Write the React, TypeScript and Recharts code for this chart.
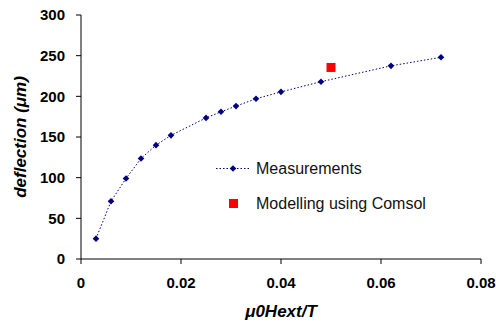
import React from 'react';
import { ScatterChart, Scatter, XAxis, YAxis, Legend, Label } from 'recharts';

const fieldT = [0.003, 0.006, 0.009, 0.012, 0.015, 0.018, 0.025, 0.028, 0.031, 0.035, 0.04, 0.048, 0.062, 0.072];
const deflectionUm = [25, 71, 99, 123.5, 140, 152, 173.5, 181, 188, 197, 205.5, 218, 237.5, 248];
const comsolField = [0.05];
const comsolDeflection = [235.5];
const xTicks = [0, 0.02, 0.04, 0.06, 0.08];
const yTicks = [0, 50, 100, 150, 200, 250, 300];
const seriesNames = ['Measurements', 'Modelling using Comsol'];

const measurements = fieldT.map((x, i) => ({ x, y: deflectionUm[i] }));
const comsol = comsolField.map((x, i) => ({ x, y: comsolDeflection[i] }));

const FONT = '"Liberation Sans", Arial, sans-serif';
const NAVY = '#000080';
const RED = '#ff0000';

const Diamond = (props: any) => {
  const { cx, cy } = props;
  if (cx == null || cy == null) return null;
  const r = 3.3;
  return <polygon points={`${cx},${cy - r} ${cx + r},${cy} ${cx},${cy + r} ${cx - r},${cy}`} fill={NAVY} />;
};

const Square = (props: any) => {
  const { cx, cy } = props;
  if (cx == null || cy == null) return null;
  const s = 9;
  return <rect x={cx - s / 2} y={cy - s / 2} width={s} height={s} fill={RED} />;
};

const LegendContent = () => (
  <div style={{ fontFamily: FONT, fontSize: 16, color: '#111', textAlign: 'left' }}>
    <div style={{ height: 35, display: 'flex', alignItems: 'center' }}>
      <svg width={40} height={35} style={{ display: 'block' }}>
        <line x1={0} y1={17.5} x2={33} y2={17.5} stroke={NAVY} strokeWidth={1} strokeDasharray="1.5 2" />
        <polygon points="17,14.2 20.3,17.5 17,20.8 13.7,17.5" fill={NAVY} />
      </svg>
      <span>{seriesNames[0]}</span>
    </div>
    <div style={{ height: 35, display: 'flex', alignItems: 'center' }}>
      <svg width={40} height={35} style={{ display: 'block' }}>
        <rect x={13} y={13} width={9} height={9} fill={RED} />
      </svg>
      <span>{seriesNames[1]}</span>
    </div>
  </div>
);

export default function App() {
  return (
    <div style={{ position: 'absolute', left: 0, top: 0, width: 496, height: 324, background: '#fff' }}>
      <ScatterChart width={496} height={324} margin={{ top: 15, right: 15, bottom: 0, left: 0 }}>
        <XAxis
          type="number"
          dataKey="x"
          domain={[0, 0.08]}
          ticks={xTicks}
          tickFormatter={(v: number) => String(v)}
          height={65}
          tickSize={5}
          tickMargin={13}
          axisLine={{ stroke: '#000', strokeWidth: 1 }}
          tickLine={{ stroke: '#000', strokeWidth: 1 }}
          tick={{ fill: '#000', fontFamily: FONT, fontSize: 15, fontWeight: 'bold' }}
          interval={0}
          allowDataOverflow
        >
          <Label
            value="μ0Hext/T"
            position="insideBottom"
            offset={7}
            style={{ fill: '#000', fontFamily: FONT, fontSize: 17, fontWeight: 'bold', fontStyle: 'italic' }}
          />
        </XAxis>
        <YAxis
          type="number"
          dataKey="y"
          domain={[0, 300]}
          ticks={yTicks}
          width={81}
          tickSize={5}
          tickMargin={11}
          axisLine={{ stroke: '#000', strokeWidth: 1 }}
          tickLine={{ stroke: '#000', strokeWidth: 1 }}
          tick={{ fill: '#000', fontFamily: FONT, fontSize: 15, fontWeight: 'bold' }}
          interval={0}
        >
          <Label
            value="deflection (μm)"
            angle={-90}
            position="insideLeft"
            offset={19.5}
            style={{ textAnchor: 'middle', fill: '#000', fontFamily: FONT, fontSize: 17, fontWeight: 'bold', fontStyle: 'italic' }}
          />
        </YAxis>
        <Legend
          layout="horizontal"
          verticalAlign="middle"
          align="center"
          content={<LegendContent />}
          wrapperStyle={{ position: 'absolute', left: 216, top: 151, width: 260, height: 70, margin: 0 }}
        />
        <Scatter
          name={seriesNames[0]}
          data={measurements}
          fill={NAVY}
          line={{ stroke: NAVY, strokeWidth: 1, strokeDasharray: '1.5 2' }}
          lineType="joint"
          shape={<Diamond />}
          isAnimationActive={false}
        />
        <Scatter
          name={seriesNames[1]}
          data={comsol}
          fill={RED}
          shape={<Square />}
          isAnimationActive={false}
        />
      </ScatterChart>
    </div>
  );
}
